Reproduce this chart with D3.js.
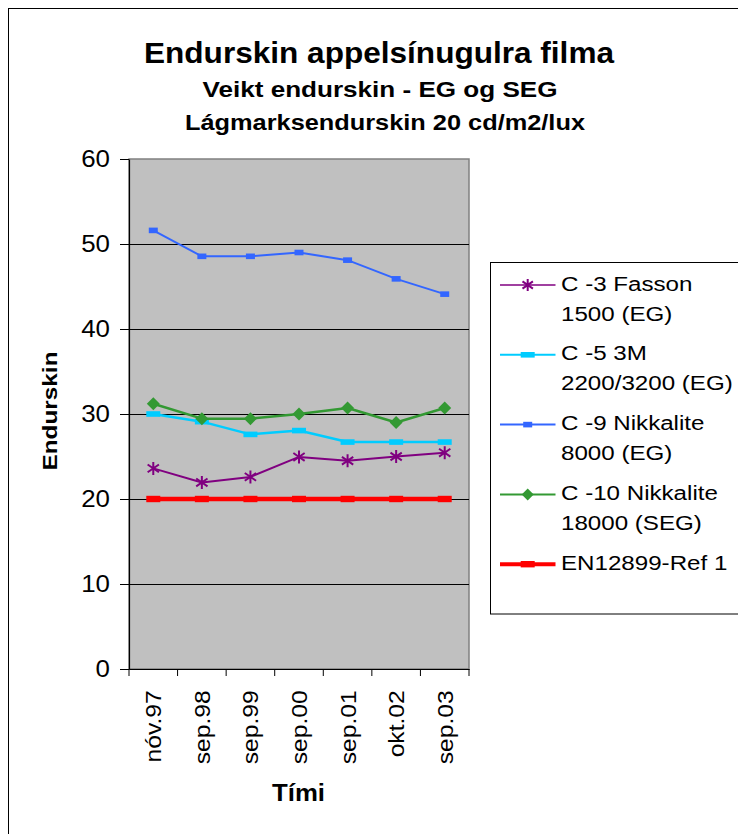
<!DOCTYPE html>
<html>
<head>
<meta charset="utf-8">
<script src="https://cdn.jsdelivr.net/npm/d3@7"></script>
<style>
  html, body { margin: 0; padding: 0; background: #fff; }
  svg { display: block; font-family: "Liberation Sans", Arial, sans-serif; }
</style>
</head>
<body>
<svg id="chart" width="738" height="834"></svg>
<script>
const categories = ["nóv.97", "sep.98", "sep.99", "sep.00", "sep.01", "okt.02", "sep.03"];
const seriesNames = ["C -3 Fasson|1500 (EG)", "C -5 3M|2200/3200 (EG)", "C -9 Nikkalite|8000 (EG)", "C -10 Nikkalite|18000 (SEG)", "EN12899-Ref 1"];
const c3Fasson = [23.6, 21.95, 22.6, 24.95, 24.5, 25.0, 25.45];
const c5_3M = [30.0, 29.1, 27.6, 28.05, 26.7, 26.7, 26.7];
const c9Nikkalite = [51.6, 48.55, 48.55, 49.0, 48.1, 45.9, 44.1];
const c10Nikkalite = [31.2, 29.45, 29.45, 30.0, 30.7, 29.0, 30.7];
const enRef = [20, 20, 20, 20, 20, 20, 20];
const yTicks = [0, 10, 20, 30, 40, 50, 60];
const titleLines = ["Endurskin appelsínugulra filma", "Veikt endurskin - EG og SEG", "Lágmarksendurskin 20 cd/m2/lux"];
const xTitle = "Tími";
const yTitle = "Endurskin";

const series = [
  { name: seriesNames[0], values: c3Fasson, color: "#800080", width: 2, marker: "star" },
  { name: seriesNames[1], values: c5_3M, color: "#00CCFF", width: 2.5, marker: "wide" },
  { name: seriesNames[2], values: c9Nikkalite, color: "#3366FF", width: 2, marker: "small" },
  { name: seriesNames[3], values: c10Nikkalite, color: "#339933", width: 2.5, marker: "diamond" },
  { name: seriesNames[4], values: enRef, color: "#FF0000", width: 4.5, marker: "ref" }
];

const svg = d3.select("#chart");
const plot = { left: 129, right: 469, top: 159, bottom: 669 };

// outer chart border
svg.append("rect").attr("x", 8.5).attr("y", 8.5).attr("width", 760).attr("height", 860)
  .attr("fill", "#fff").attr("stroke", "#000").attr("stroke-width", 1);

const x = d3.scaleBand().domain(categories).range([plot.left, plot.right]);
const y = d3.scaleLinear().domain([0, 60]).range([plot.bottom, plot.top]);
const cx = c => x(c) + x.bandwidth() / 2;

// plot area
svg.append("rect").attr("x", plot.left).attr("y", plot.top)
  .attr("width", plot.right - plot.left).attr("height", plot.bottom - plot.top)
  .attr("fill", "#C0C0C0").attr("stroke", "#808080").attr("stroke-width", 1.5);

// gridlines
svg.append("g").selectAll("line").data(yTicks.filter(t => t > 0 && t < 60)).join("line")
  .attr("x1", plot.left).attr("x2", plot.right)
  .attr("y1", d => Math.round(y(d)) + 0.5).attr("y2", d => Math.round(y(d)) + 0.5)
  .attr("stroke", "#000").attr("stroke-width", 1);

// y axis
const yAxis = svg.append("g").attr("transform", `translate(${plot.left},0)`)
  .call(d3.axisLeft(y).tickValues(yTicks).tickSize(9).tickPadding(10).tickSizeOuter(0));
yAxis.select(".domain").attr("stroke", "#000").attr("stroke-width", 1.2);
yAxis.selectAll(".tick line").attr("stroke", "#000");
yAxis.selectAll(".tick text").attr("font-size", 23).attr("fill", "#000")
  .attr("font-family", "Liberation Sans, Arial, sans-serif")
  .attr("textLength", d => String(d).length * 14.4)
  .attr("lengthAdjust", "spacingAndGlyphs");

// x axis
const xAxis = svg.append("g").attr("transform", `translate(0,${plot.bottom})`)
  .call(d3.axisBottom(x).tickSize(0).tickSizeOuter(0));
xAxis.select(".domain").attr("stroke", "#000").attr("stroke-width", 1.2);
const bounds = categories.map(c => x(c)).concat([plot.right]);
xAxis.append("g").selectAll("line").data(bounds).join("line")
  .attr("x1", d => d).attr("x2", d => d).attr("y1", 0).attr("y2", 7)
  .attr("stroke", "#000").attr("stroke-width", 1);
xAxis.selectAll(".tick text")
  .attr("font-size", 22).attr("fill", "#000")
  .attr("font-family", "Liberation Sans, Arial, sans-serif")
  .attr("text-anchor", "end")
  .attr("transform", "rotate(-90) scale(1.12,1)")
  .attr("x", -19).attr("y", 0).attr("dy", "0.36em");

// lines and markers
const line = d3.line().x((d, i) => cx(categories[i])).y(d => y(d));

function drawMarker(g, type, color, px, py, legend) {
  if (type === "star") {
    const s = legend ? 6 : 6.5;
    const p = d3.path();
    p.moveTo(px, py - s); p.lineTo(px, py + s);
    p.moveTo(px - s * 0.87, py - s * 0.6); p.lineTo(px + s * 0.87, py + s * 0.6);
    p.moveTo(px - s * 0.87, py + s * 0.6); p.lineTo(px + s * 0.87, py - s * 0.6);
    g.append("path").attr("d", p.toString()).attr("stroke", color).attr("stroke-width", 2).attr("fill", "none");
  } else if (type === "wide") {
    g.append("rect").attr("x", px - 7).attr("y", py - 2.8).attr("width", 14).attr("height", 5.6).attr("fill", color);
  } else if (type === "small") {
    g.append("rect").attr("x", px - 4.5).attr("y", py - 2.8).attr("width", 9).attr("height", 5.6).attr("fill", color);
  } else if (type === "diamond") {
    const s = legend ? 6 : 6.5;
    g.append("path").attr("d", `M${px},${py - s}L${px + s},${py}L${px},${py + s}L${px - s},${py}Z`).attr("fill", color);
  } else if (type === "ref") {
    g.append("rect").attr("x", px - 7).attr("y", py - 3.2).attr("width", 14).attr("height", 6.4).attr("fill", color);
  }
}

series.forEach(s => {
  const g = svg.append("g");
  g.append("path").datum(s.values).attr("d", line)
    .attr("fill", "none").attr("stroke", s.color).attr("stroke-width", s.width)
    .attr("stroke-linejoin", "round");
  s.values.forEach((v, i) => drawMarker(g, s.marker, s.color, cx(categories[i]), y(v), false));
});

// titles
const titleSpec = [
  { size: 30, y: 63, cx: 379, len: 470 },
  { size: 22.5, y: 97, cx: 380, len: 355 },
  { size: 22.5, y: 130, cx: 385, len: 400 }
];
titleLines.forEach((t, i) => {
  const sp = titleSpec[i];
  svg.append("text").attr("x", sp.cx).attr("y", sp.y).attr("text-anchor", "middle")
    .attr("font-size", sp.size).attr("font-weight", "bold").attr("fill", "#000")
    .attr("textLength", sp.len).attr("lengthAdjust", "spacingAndGlyphs").text(t);
});

// axis titles
svg.append("text").attr("x", 298.5).attr("y", 801).attr("text-anchor", "middle")
  .attr("font-size", 23).attr("font-weight", "bold")
  .attr("textLength", 53).attr("lengthAdjust", "spacingAndGlyphs").text(xTitle);
svg.append("text").attr("transform", "translate(56.5,411) rotate(-90)").attr("text-anchor", "middle")
  .attr("font-size", 21).attr("font-weight", "bold")
  .attr("textLength", 119).attr("lengthAdjust", "spacingAndGlyphs").text(yTitle);

// legend
const lg = svg.append("g");
lg.append("rect").attr("x", 490.5).attr("y", 262.5).attr("width", 270).attr("height", 351.5)
  .attr("fill", "#fff").attr("stroke", "#000").attr("stroke-width", 1);
const legendLineW = [1.5, 2, 2, 2, 4];
series.forEach((s, i) => {
  const ly = 285 + i * 69.8;
  lg.append("line").attr("x1", 500).attr("x2", 555.5).attr("y1", ly).attr("y2", ly)
    .attr("stroke", s.color).attr("stroke-width", legendLineW[i]);
  drawMarker(lg, s.marker, s.color, 527.7, ly, true);
  s.name.split("|").forEach((part, j) => {
    lg.append("text").attr("transform", `translate(561,${ly + 5.5 + j * 30}) scale(1.15,1)`)
      .attr("font-size", 21).attr("fill", "#000").text(part);
  });
});
</script>
</body>
</html>
